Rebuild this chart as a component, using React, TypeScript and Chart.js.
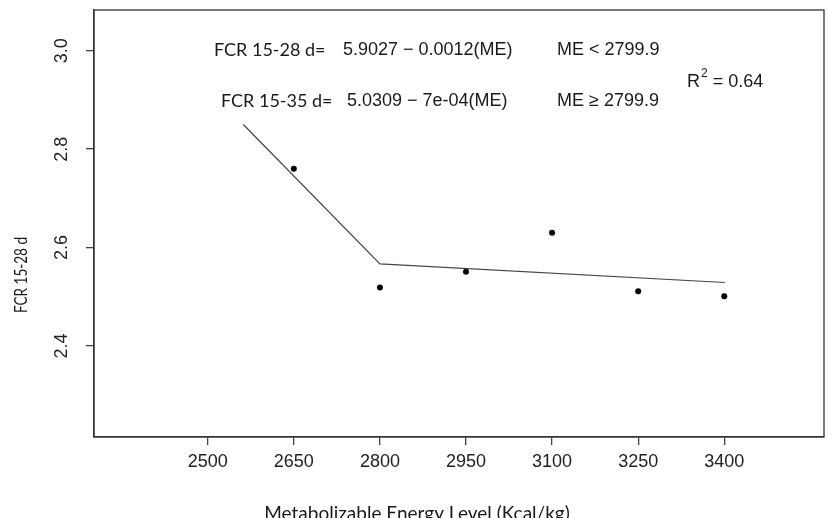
import { useEffect, useRef } from 'react';
import { Chart, registerables } from 'chart.js';

Chart.register(...registerables);

// Observed data (ME level, FCR 15-28 d)
const energyLevels = [2650, 2800, 2950, 3100, 3250, 3400];
const fcrValues = [2.76, 2.519, 2.551, 2.63, 2.511, 2.501];

// Broken-line fit
const fitEnergy = [2562, 2800, 3401];
const fitFcr = [2.85, 2.567, 2.529];

const xTickValues = [2500, 2650, 2800, 2950, 3100, 3250, 3400];
const yTickValues = [2.4, 2.6, 2.8, 3.0];

const xTitle = 'Metabolizable Energy Level (Kcal/kg)';
const yTitle = 'FCR 15-28 d';

const TICK_FONT = '"Liberation Sans", Arial, sans-serif';
const LABEL_FONT = 'Lato, "Open Sans", sans-serif';

const textPlugin = {
  id: 'textPlugin',
  afterDraw(chart: any) {
    const ctx = chart.ctx as CanvasRenderingContext2D;
    const a = chart.chartArea;
    ctx.save();
    // plot box
    ctx.strokeStyle = '#333';
    ctx.lineWidth = 1.3;
    ctx.strokeRect(a.left, a.top, a.right - a.left, a.bottom - a.top);

    ctx.fillStyle = '#1a1a1a';
    ctx.textBaseline = 'middle';
    ctx.textAlign = 'left';

    // equations
    ctx.font = `18px ${LABEL_FONT}`;
    ctx.fillText('FCR 15-28 d=', 214, 50, 112);
    ctx.fillText('FCR 15-35 d=', 221, 101, 112);

    ctx.font = `18px ${TICK_FONT}`;
    ctx.fillText('5.9027 \u2212 0.0012(ME)', 343, 50);
    ctx.fillText('5.0309 \u2212 7e-04(ME)', 347, 101);
    ctx.fillText('ME < 2799.9', 557, 50);
    ctx.fillText('ME \u2265 2799.9', 557, 101);

    // R^2
    ctx.fillText('R', 687, 82);
    const rw = ctx.measureText('R').width;
    ctx.font = `12px ${TICK_FONT}`;
    ctx.fillText('2', 687 + rw + 1, 74);
    const sw = ctx.measureText('2').width;
    ctx.font = `18px ${TICK_FONT}`;
    ctx.fillText(' = 0.64', 687 + rw + sw + 1, 82);

    // axis titles
    ctx.font = `19px ${LABEL_FONT}`;
    ctx.textAlign = 'center';
    ctx.textBaseline = 'alphabetic';
    ctx.fillText(xTitle, 417, 520, 308);

    ctx.save();
    ctx.translate(22, 275);
    ctx.rotate(-Math.PI / 2);
    ctx.textBaseline = 'middle';
    ctx.font = `17px ${LABEL_FONT}`;
    ctx.fillText(yTitle, 0, 0, 76);
    ctx.restore();

    ctx.restore();
  },
};

export default function App() {
  const canvasRef = useRef<HTMLCanvasElement | null>(null);

  useEffect(() => {
    document.body.style.margin = '0';
    const canvas = canvasRef.current;
    if (!canvas) return;
    const chart = new Chart(canvas, {
      type: 'scatter',
      data: {
        datasets: [
          {
            label: 'fit',
            data: fitEnergy.map((x, i) => ({ x, y: fitFcr[i] })),
            showLine: true,
            borderColor: '#444',
            borderWidth: 1.2,
            pointRadius: 0,
            fill: false,
          } as any,
          {
            label: 'observed',
            data: energyLevels.map((x, i) => ({ x, y: fcrValues[i] })),
            backgroundColor: '#000',
            borderColor: '#000',
            pointRadius: 3,
            borderWidth: 0,
          },
        ],
      },
      options: {
        responsive: false,
        animation: false,
        devicePixelRatio: 1,
        layout: { padding: { top: 10, right: 2, left: 0, bottom: 0 } },
        plugins: {
          legend: { display: false },
          tooltip: { enabled: false },
          title: { display: false },
        },
        scales: {
          x: {
            type: 'linear',
            min: 2301.8,
            max: 3573.8,
            afterBuildTicks: (s: any) => {
              s.ticks = xTickValues.map((v) => ({ value: v }));
            },
            afterFit: (s: any) => {
              s.height = 81;
              s.paddingLeft = 0;
              s.paddingRight = 0;
              s.paddingTop = 0;
              s.paddingBottom = 0;
            },
            ticks: {
              color: '#222',
              font: { family: TICK_FONT, size: 18 },
              padding: 6,
              maxRotation: 0,
              minRotation: 0,
              callback: (v: any) => String(v),
            },
            grid: {
              display: true,
              drawOnChartArea: false,
              drawTicks: true,
              tickLength: 8,
              color: '#444',
              lineWidth: 1.3,
            },
            border: { display: true, color: '#333', width: 1.3 },
          },
          y: {
            type: 'linear',
            min: 2.2151,
            max: 3.0827,
            afterBuildTicks: (s: any) => {
              s.ticks = yTickValues.map((v) => ({ value: v }));
            },
            afterFit: (s: any) => {
              s.width = 94;
              s.paddingLeft = 0;
              s.paddingRight = 0;
              s.paddingTop = 0;
              s.paddingBottom = 0;
            },
            ticks: {
              color: '#222',
              font: { family: TICK_FONT, size: 18 },
              padding: 11,
              minRotation: 90,
              maxRotation: 90,
              crossAlign: 'center',
              callback: (v: any) => Number(v).toFixed(1),
            },
            grid: {
              display: true,
              drawOnChartArea: false,
              drawTicks: true,
              tickLength: 8,
              color: '#444',
              lineWidth: 1.3,
            },
            border: { display: true, color: '#333', width: 1.3 },
          },
        },
      },
      plugins: [textPlugin],
    });
    return () => chart.destroy();
  }, []);

  return (
    <div style={{ position: 'fixed', left: 0, top: 0, width: 828, height: 518, background: '#fff' }}>
      <canvas ref={canvasRef} width={828} height={518} style={{ display: 'block' }} />
    </div>
  );
}
